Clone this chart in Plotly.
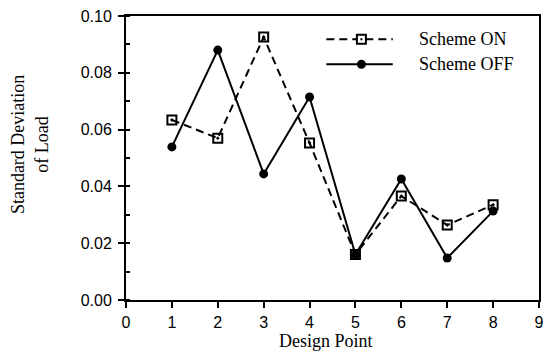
import plotly.graph_objects as go

design_points = [1, 2, 3, 4, 5, 6, 7, 8]
scheme_on = [0.0634, 0.0570, 0.0926, 0.0553, 0.0160, 0.0366, 0.0264, 0.0335]
scheme_off = [0.0539, 0.0880, 0.0444, 0.0715, 0.0160, 0.0426, 0.0148, 0.0313]
x_ticks = [0, 1, 2, 3, 4, 5, 6, 7, 8, 9]
y_ticks = [0.00, 0.02, 0.04, 0.06, 0.08, 0.10]
series_names = ["Scheme ON", "Scheme OFF"]

SERIF = "Liberation Serif, Times New Roman, serif"
SANS = "Liberation Sans, Arial, sans-serif"
DASH = "8px,5px"

fig = go.Figure()
fig.add_trace(go.Scatter(
    x=design_points, y=scheme_on, name=series_names[0], mode="lines+markers",
    line=dict(color="black", width=2, dash=DASH),
    marker=dict(symbol="square-open-dot", size=9, color="black", line=dict(width=2, color="black")),
    showlegend=False,
))
fig.add_trace(go.Scatter(
    x=design_points, y=scheme_off, name=series_names[1], mode="lines+markers",
    line=dict(color="black", width=2),
    marker=dict(symbol="circle", size=9, color="black"),
    showlegend=False,
))

axis_common = dict(
    showline=True, linecolor="black", linewidth=2, mirror=True,
    showgrid=False, zeroline=False, automargin=False,
    ticks="outside", ticklen=6, tickwidth=2, tickcolor="black",
    ticklabeloverflow="allow",
    tickfont=dict(family=SANS, size=16, color="black"),
)
fig.update_xaxes(
    range=[0, 9.0001], tickvals=x_ticks, ticktext=[str(v) for v in x_ticks],
    ticklabelstandoff=1,
    **axis_common,
)
fig.update_yaxes(
    range=[0, 0.100005], tickvals=y_ticks, ticktext=[f"{v:.2f}" for v in y_ticks],
    minor=dict(dtick=0.01, ticks="inside", ticklen=4, tickwidth=1.5, tickcolor="black"),
    ticklabelstandoff=3,
    **axis_common,
)

# custom legend (paper coordinates of the plot area)
leg_x0, leg_x1, leg_xm, leg_text_x = 0.485, 0.646, 0.570, 0.705
leg_y = [0.918, 0.830]
shapes = [
    dict(type="line", xref="paper", yref="paper", x0=leg_x0, x1=leg_x1, y0=leg_y[0], y1=leg_y[0],
         line=dict(color="black", width=2, dash=DASH)),
    dict(type="line", xref="paper", yref="paper", x0=leg_x0, x1=leg_x1, y0=leg_y[1], y1=leg_y[1],
         line=dict(color="black", width=2)),
    dict(type="rect", xref="paper", yref="paper", xsizemode="pixel", ysizemode="pixel",
         xanchor=leg_xm, yanchor=leg_y[0], x0=-4.5, x1=4.5, y0=-4.5, y1=4.5,
         fillcolor="white", line=dict(color="black", width=2)),
    dict(type="rect", xref="paper", yref="paper", xsizemode="pixel", ysizemode="pixel",
         xanchor=leg_xm, yanchor=leg_y[0], x0=-1, x1=1, y0=-1, y1=1,
         fillcolor="black", line=dict(color="black", width=0)),
    dict(type="circle", xref="paper", yref="paper", xsizemode="pixel", ysizemode="pixel",
         xanchor=leg_xm, yanchor=leg_y[1], x0=-4.5, x1=4.5, y0=-4.5, y1=4.5,
         fillcolor="black", line=dict(color="black", width=0)),
]
annotations = [
    dict(text=series_names[0], xref="paper", yref="paper", x=leg_text_x, y=leg_y[0],
         xanchor="left", yanchor="middle", showarrow=False,
         font=dict(family=SERIF, size=18, color="black")),
    dict(text=series_names[1], xref="paper", yref="paper", x=leg_text_x, y=leg_y[1],
         xanchor="left", yanchor="middle", showarrow=False,
         font=dict(family=SERIF, size=18, color="black")),
    dict(text="Design Point", xref="paper", yref="paper", x=0.485, y=-0.144,
         xanchor="center", yanchor="middle", showarrow=False,
         font=dict(family=SERIF, size=18, color="black")),
    dict(text="Standard Deviation<br>of Load", xref="paper", yref="paper", x=-0.232, y=0.546,
         xanchor="center", yanchor="middle", showarrow=False, textangle=-90,
         font=dict(family=SERIF, size=18, color="black")),
]

fig.update_layout(
    width=543, height=352,
    margin=dict(l=126, r=4, t=16, b=52),
    paper_bgcolor="white", plot_bgcolor="white",
    shapes=shapes, annotations=annotations,
)
fig.write_html(
    "out.html",
    config={"displayModeBar": False},
    post_script="document.body.style.margin='0px';document.documentElement.style.overflow='hidden';",
)
